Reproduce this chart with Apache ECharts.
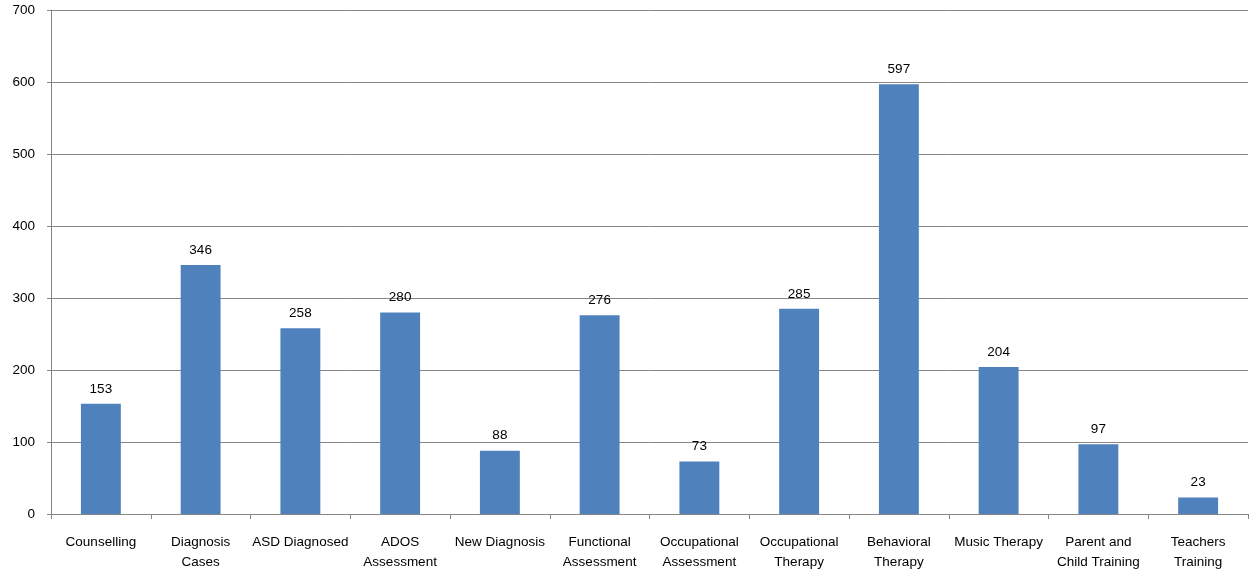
<!DOCTYPE html>
<html><head><meta charset="utf-8">
<script src="https://cdn.jsdelivr.net/npm/echarts@6/dist/echarts.min.js"></script>
<style>html,body{margin:0;padding:0;background:#fff}#c{width:1250px;height:575px}</style>
</head><body><div id="c"></div>
<script>
const categories = ["Counselling","Diagnosis\nCases","ASD Diagnosed","ADOS\nAssessment","New Diagnosis","Functional\nAssessment","Occupational\nAssessment","Occupational\nTherapy","Behavioral\nTherapy","Music Therapy","Parent and\nChild Training","Teachers\nTraining"];
const values = [153,346,258,280,88,276,73,285,597,204,97,23];
const yTicks = {min:0, max:700, interval:100};
const font = "Liberation Sans";
const chart = echarts.init(document.getElementById('c'));
chart.setOption({
  animation:false,
  grid:{left:51,right:2,top:10,bottom:61,containLabel:false},
  xAxis:{type:'category',data:categories,
    axisLine:{lineStyle:{color:'#868686',width:1}},
    axisTick:{show:true,alignWithLabel:false,length:5,lineStyle:{color:'#868686'}},
    axisLabel:{interval:0,color:'#000',fontFamily:font,fontSize:13.5,lineHeight:20,margin:18}},
  yAxis:{type:'value',min:yTicks.min,max:yTicks.max,interval:yTicks.interval,
    axisLine:{show:true,lineStyle:{color:'#868686'}},
    axisTick:{show:true,length:4,lineStyle:{color:'#868686'}},
    splitLine:{lineStyle:{color:'#868686',width:1}},
    axisLabel:{color:'#000',fontFamily:font,fontSize:13.5,margin:16}},
  series:[{type:'bar',data:values,barWidth:'40%',
    itemStyle:{color:'#4F81BD'},
    label:{show:true,position:'top',color:'#000',fontFamily:font,fontSize:13.5,distance:8}}]
});
</script></body></html>
